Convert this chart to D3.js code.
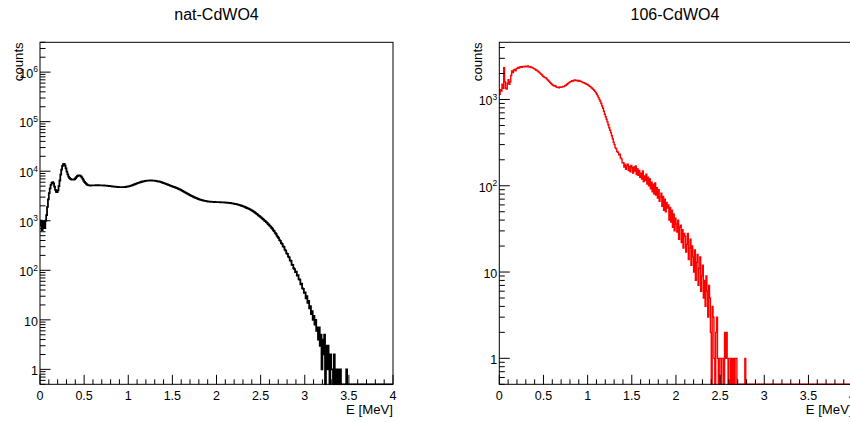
<!DOCTYPE html>
<html>
<head>
<meta charset="utf-8">
<script src="https://cdn.jsdelivr.net/npm/d3@7"></script>
<style>
  html, body { margin: 0; padding: 0; background: #fff; }
  svg { display: block; font-family: "Liberation Sans", Arial, Helvetica, sans-serif; }
</style>
</head>
<body>
<svg id="chart" width="850" height="422"></svg>
<script>
// Energy spectra, 0.01 MeV bins starting at 0 MeV; bins past the end of each array are empty.
const binWidth = 0.01;
const xTickLabels = ["0", "0.5", "1", "1.5", "2", "2.5", "3", "3.5", "4"];

const natCounts = [
  800,1000,650,900,970,710,1000,1300,1900,2700,
  3600,4500,5300,5800,6000,5700,4900,4200,3850,3800,
  4100,5000,6500,8500,10800,12800,13900,14000,13000,11400,
  9800,8600,7800,7300,7000,6850,6780,6760,6800,6950,
  7300,7700,8000,8200,8250,8150,7900,7500,7000,6500,
  6100,5800,5550,5350,5250,5200,5180,5150,5160,5170,
  5180,5200,5190,5210,5200,5220,5210,5200,5190,5200,
  5180,5160,5150,5140,5120,5100,5080,5050,5030,5000,
  4980,4950,4920,4900,4880,4860,4840,4820,4800,4790,
  4780,4770,4760,4760,4770,4780,4800,4830,4870,4910,
  4950,5000,5060,5130,5200,5280,5370,5460,5550,5640,
  5730,5820,5900,5980,6060,6130,6200,6260,6310,6360,
  6400,6430,6460,6480,6490,6500,6490,6480,6460,6430,
  6400,6360,6310,6260,6200,6150,6080,6000,5920,5840,
  5750,5660,5570,5480,5390,5300,5220,5140,5060,4980,
  4900,4830,4760,4690,4620,4550,4460,4370,4280,4190,
  4100,4010,3920,3830,3740,3650,3570,3490,3410,3330,
  3250,3190,3130,3070,3010,2950,2900,2850,2800,2750,
  2700,2670,2640,2610,2580,2550,2530,2510,2490,2470,
  2450,2440,2430,2420,2410,2400,2400,2390,2390,2385,
  2380,2375,2370,2370,2365,2360,2355,2350,2340,2335,
  2330,2320,2310,2300,2290,2280,2265,2250,2235,2220,
  2200,2180,2160,2140,2120,2100,2070,2040,2010,1980,
  1950,1920,1880,1850,1810,1780,1750,1710,1680,1640,
  1600,1560,1510,1470,1420,1380,1340,1290,1250,1210,
  1170,1135,1085,1055,1005,980,935,905,855,830,
  785,760,715,690,640,615,570,545,500,475,
  445,405,392,355,340,305,296,262,250,220,
  215,188,182,158,155,130,128,110,106,92,
  94,78,80,66,65,52,54,43,42,35,
  36,27,30,22,24,17,19,13,15,10,
  12,8,10,6,7,4,7,3,5,1,
  4,2,5,0,3,1,3,1,0,2,
  1,1,0,2,0,1,1,0,1,0,
  1,0,0,0,0,0,0,1
];

const enrCounts = [
  1150,1300,1250,1500,1350,2340,1600,1350,1320,1550,
  1700,1500,1600,1900,2140,2050,2200,2230,2150,2280,
  2300,2350,2320,2380,2400,2360,2420,2390,2400,2430,
  2410,2400,2440,2390,2380,2400,2350,2340,2310,2280,
  2250,2200,2180,2140,2100,2060,2000,1970,1920,1860,
  1830,1800,1790,1750,1700,1660,1620,1580,1540,1500,
  1470,1450,1430,1440,1400,1380,1390,1370,1400,1380,
  1390,1400,1420,1410,1440,1460,1490,1520,1550,1580,
  1600,1620,1650,1640,1660,1680,1660,1670,1650,1640,
  1660,1630,1620,1600,1580,1560,1550,1530,1510,1500,
  1470,1450,1420,1400,1370,1340,1310,1280,1240,1200,
  1150,1100,1050,1000,955,900,840,790,730,675,
  630,590,550,510,470,440,410,380,350,320,
  300,275,268,250,245,228,232,210,205,185,
  185,165,178,155,170,178,150,168,145,172,
  162,140,165,148,170,135,158,132,150,125,
  140,120,148,112,130,115,136,105,126,100,
  120,92,110,85,104,80,108,78,95,72,
  90,66,74,82,58,75,52,70,50,64,
  55,60,40,56,38,52,33,47,30,42,
  36,29,40,24,33,35,22,31,19,28,
  26,17,21,28,14,19,24,12,20,15,
  10,18,8,13,16,7,11,15,6,9,
  12,5,8,4,9,6,3,7,5,2,
  0,4,3,1,0,2,3,1,0,1,
  1,0,1,1,0,2,1,2,1,0,
  1,1,0,1,0,1,0,1,1,0,
  0,0,0,0,0,0,0,0,1,0
];

const panels = [
  { title: "nat-CdWO4", counts: natCounts, color: "#000", lineWidth: 1.8,
    left: 40, right: 393, yMax: 4.0e6 },
  { title: "106-CdWO4", counts: enrCounts, color: "#f00", lineWidth: 1.4,
    left: 499.3, right: 852.6, yMax: 4.6e3 }
];

const frameTop = 42.3, frameBottom = 384.3, yMin = 0.5, eMax = 4;
const svg = d3.select("#chart");
svg.append("rect").attr("width", 850).attr("height", 422).attr("fill", "#fff");

function superscriptLabel(sel, v) {
  const p = Math.round(Math.log10(v));
  if (p <= 1) { sel.text(String(v)); return; }
  sel.append("tspan").text("10");
  sel.append("tspan").attr("font-size", 8.5).attr("dy", -5.5).text(p);
}

panels.forEach((p, idx) => {
  const x = d3.scaleLinear().domain([0, eMax]).range([p.left, p.right]);
  const y = d3.scaleLog().domain([yMin, p.yMax]).range([frameBottom, frameTop]);
  const g = svg.append("g");

  // clip region = frame
  const clipId = "clip" + idx;
  svg.append("clipPath").attr("id", clipId)
    .append("rect").attr("x", p.left).attr("y", frameTop - 1)
    .attr("width", p.right - p.left).attr("height", frameBottom - frameTop + 2);

  // histogram as a step line, empty bins sit on the lower frame edge
  const nBins = Math.round(eMax / binWidth);
  const pts = [];
  for (let i = 0; i < nBins; i++) {
    const v = i < p.counts.length ? p.counts[i] : 0;
    const vv = Math.max(v, yMin);
    pts.push([i * binWidth, vv], [(i + 1) * binWidth, vv]);
  }
  const line = d3.line().x(d => x(d[0])).y(d => y(d[1]));
  g.append("path").attr("d", line(pts))
    .attr("fill", "none").attr("stroke", p.color)
    .attr("stroke-width", p.lineWidth).attr("stroke-linejoin", "miter")
    .attr("clip-path", `url(#${clipId})`);

  // frame
  g.append("rect").attr("x", p.left).attr("y", frameTop)
    .attr("width", p.right - p.left).attr("height", frameBottom - frameTop)
    .attr("fill", "none").attr("stroke", "#000").attr("stroke-width", 1);

  // x axis: major ticks every 0.5, minor every 0.1, drawn inward
  const xAxis = g.append("g");
  d3.range(0, 41).forEach(k => {
    const e = k / 10;
    const major = k % 5 === 0;
    xAxis.append("line")
      .attr("x1", x(e)).attr("x2", x(e))
      .attr("y1", frameBottom).attr("y2", frameBottom - (major ? 9.5 : 5))
      .attr("stroke", "#000").attr("stroke-width", 1);
  });
  xTickLabels.forEach(t => {
    xAxis.append("text").attr("x", x(+t)).attr("y", 399.5)
      .attr("text-anchor", "middle").attr("font-size", 12.5).attr("fill", "#000").text(t);
  });
  xAxis.append("text").attr("x", p.right).attr("y", 413.5)
    .attr("text-anchor", "end").attr("font-size", 13.2).attr("fill", "#000").text("E [MeV]");

  // y axis: log decades with 2..9 minor ticks
  const yAxis = g.append("g");
  const [lo, hi] = y.domain();
  for (let d = Math.floor(Math.log10(lo)); d <= Math.ceil(Math.log10(hi)); d++) {
    for (let m = 1; m <= 9; m++) {
      const v = m * Math.pow(10, d);
      if (v < lo * 0.999 || v > hi * 1.001) continue;
      yAxis.append("line")
        .attr("x1", p.left).attr("x2", p.left + (m === 1 ? 10.5 : 5.5))
        .attr("y1", y(v)).attr("y2", y(v))
        .attr("stroke", "#000").attr("stroke-width", 1);
      if (m === 1) {
        yAxis.append("text").attr("x", p.left - 2).attr("y", y(v) + 5.8)
          .attr("text-anchor", "end").attr("font-size", 12.5).attr("fill", "#000")
          .call(superscriptLabel, v);
      }
    }
  }
  yAxis.append("text")
    .attr("transform", `translate(${p.left - 17.5},${frameTop}) rotate(-90)`)
    .attr("text-anchor", "end").attr("font-size", 13.2).attr("fill", "#000").text("counts");

  // title
  svg.append("text").attr("x", (p.left + p.right) / 2 - (idx ? 1 : 0)).attr("y", 20)
    .attr("text-anchor", "middle").attr("font-size", 16).attr("fill", "#000").text(p.title);
});
</script>
</body>
</html>
